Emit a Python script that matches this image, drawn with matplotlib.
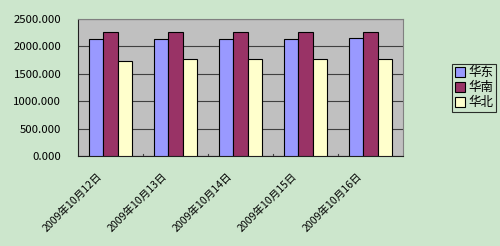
import matplotlib.pyplot as plt
import matplotlib.transforms as mtransforms
import numpy as np

plt.rcParams['font.family'] = ['Noto Sans CJK SC', 'DejaVu Sans']

DATES = ["2009年10月12日", "2009年10月13日", "2009年10月14日",
         "2009年10月15日", "2009年10月16日"]
HUADONG = [2130, 2132, 2132, 2132, 2148]
HUANAN = [2258, 2258, 2258, 2258, 2258]
HUABEI = [1740, 1765, 1765, 1765, 1765]
SERIES = ["华东", "华南", "华北"]
COLORS = ["#9999ff", "#993366", "#ffffcc"]
YTICKS = [0, 500, 1000, 1500, 2000, 2500]

BG = "#cce6cc"

fig = plt.figure(figsize=(5, 2.46), dpi=100, facecolor=BG)
ax = fig.add_axes([0.156, 0.366, 0.65, 0.557])
ax.set_facecolor("#c0c0c0")

x = np.arange(len(DATES))
w = 0.22
for i, (vals, name, col) in enumerate(zip([HUADONG, HUANAN, HUABEI], SERIES, COLORS)):
    ax.bar(x + (i - 1) * w, vals, width=w, color=col, edgecolor="black",
           linewidth=0.8, label=name, zorder=3)

ax.set_xlim(-0.5, len(DATES) - 0.5)
ax.set_ylim(0, 2500)
ax.set_yticks(YTICKS, [f"{v:.3f}" for v in YTICKS], fontsize=8.2)
ax.grid(axis="y", color="#404040", linewidth=0.8, zorder=0)
ax.set_xticks(x, DATES, rotation=45, ha="right", rotation_mode="anchor",
              fontsize=7.6)
ax.tick_params(axis="x", length=0, pad=6)
ax.tick_params(axis="y", length=0, pad=12)
shift = mtransforms.ScaledTranslation(-10 / 72, -5 / 72, fig.dpi_scale_trans)
for lbl in ax.get_xticklabels():
    lbl.set_transform(lbl.get_transform() + shift)
for b in np.arange(0.5, len(DATES) - 0.5):
    ax.plot([b, b], [0, 40], color="#404040", linewidth=0.8, zorder=2)
for s in ("top", "right"):
    ax.spines[s].set_color("#808080")
for s in ("left", "bottom"):
    ax.spines[s].set_color("#202020")

leg = fig.legend(loc="upper left", bbox_to_anchor=(0.904, 0.74),
                 frameon=True, fancybox=False, facecolor=BG, edgecolor="black",
                 fontsize=9, handlelength=0.8, handleheight=0.8,
                 handletextpad=0.3, borderpad=0.2, labelspacing=0.15,
                 borderaxespad=0)
leg.get_frame().set_linewidth(0.8)

fig.savefig("out.png", facecolor=BG)
